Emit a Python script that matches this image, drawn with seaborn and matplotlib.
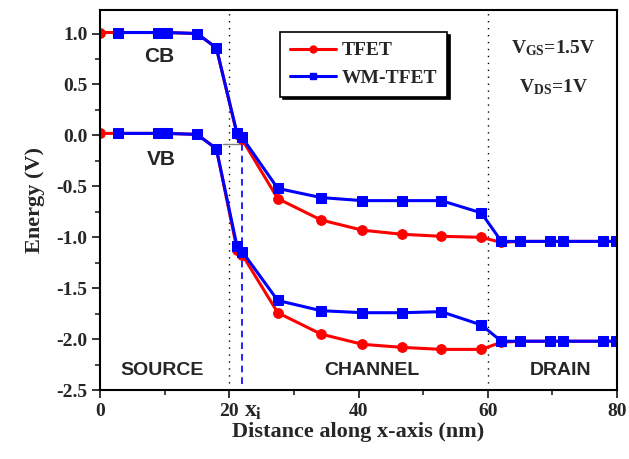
import numpy as np
import pandas as pd
import seaborn as sns
import matplotlib
matplotlib.use('Agg')
import matplotlib.pyplot as plt
from matplotlib.lines import Line2D

#========================= Data ===============================================
x_tfet = [0, 2.8, 9.0, 10.4, 15.0, 18.0, 21.2, 22.0, 27.5, 34.2, 40.6, 46.7,
          52.8, 59.0, 62.1, 65.0, 69.7, 71.7, 77.9, 79.8]
cb_tfet = [1.01, 1.01, 1.01, 1.01, 1.00, 0.86, 0.01, -0.04, -0.62, -0.83, -0.93,
           -0.97, -0.99, -1.00, -1.05, -1.04, -1.04, -1.04, -1.04, -1.04]
vb_tfet = [0.02, 0.02, 0.02, 0.02, 0.01, -0.13, -1.12, -1.17, -1.74, -1.95, -2.05,
           -2.08, -2.10, -2.10, -2.03, -2.02, -2.02, -2.02, -2.02, -2.02]

x_wm = [2.8, 9.0, 10.4, 15.0, 18.0, 21.2, 22.0, 27.5, 34.2, 40.6, 46.7,
        52.8, 59.0, 62.1, 65.0, 69.7, 71.7, 77.9, 79.8]
cb_wm = [1.01, 1.01, 1.01, 1.00, 0.86, 0.02, -0.02, -0.52, -0.61, -0.64, -0.64,
         -0.64, -0.76, -1.04, -1.04, -1.04, -1.04, -1.04, -1.04]
vb_wm = [0.02, 0.02, 0.02, 0.01, -0.13, -1.09, -1.14, -1.62, -1.72, -1.74, -1.74,
         -1.73, -1.86, -2.02, -2.02, -2.02, -2.02, -2.02, -2.02]

region_labels = ['SOURCE', 'CHANNEL', 'DRAIN']
region_x = [9.6, 42.0, 71.3]

#========================= Plot ===============================================
sns.set_style('ticks')
plt.rcParams['font.family'] = ['Liberation Serif', 'DejaVu Serif']
plt.rcParams['font.weight'] = 'bold'
plt.rcParams['mathtext.fontset'] = 'custom'
plt.rcParams['mathtext.rm'] = 'Liberation Serif:bold'
plt.rcParams['mathtext.it'] = 'Liberation Serif:bold'
plt.rcParams['mathtext.bf'] = 'Liberation Serif:bold'

fig = plt.figure(figsize=(6.29, 4.59), dpi=100)
ax = fig.add_axes([0.159, 0.150, 0.822, 0.828])

red = '#ff0000'
blue = '#0000ff'
for xs, ys in [(x_tfet, cb_tfet), (x_tfet, vb_tfet)]:
    sns.lineplot(x=xs, y=ys, ax=ax, color=red, marker='o', markersize=7,
                 markeredgecolor=red, linewidth=2.2, sort=False, estimator=None)
for xs, ys in [(x_wm, cb_wm), (x_wm, vb_wm)]:
    sns.lineplot(x=xs, y=ys, ax=ax, color=blue, marker='s', markersize=6.5,
                 markeredgecolor=blue, linewidth=2.2, sort=False, estimator=None)

# region boundaries
ax.axvline(20, color='black', linestyle=(0, (1, 4)), linewidth=1.0, zorder=1)
ax.axvline(60, color='black', linestyle=(0, (1, 4)), linewidth=1.0, zorder=1)
ax.plot([19.0, 22.0], [-0.08, -0.08], color='grey', linewidth=1.0, zorder=1)
ax.plot([22.0, 22.0], [-0.08, -2.5], color=blue, linestyle=(0, (4, 3)),
        linewidth=1.2, zorder=1)

ax.set_xlim(0, 80)
ax.set_ylim(-2.5, 1.23)
ax.set_xticks([0, 20, 40, 60, 80])
ax.set_xticks([10, 30, 50, 70], minor=True)
ax.set_yticks(np.arange(-2.5, 1.01, 0.5))
ax.set_yticks(np.arange(-2.25, 1.1, 0.5), minor=True)
ax.set_yticklabels(['%.1f' % v for v in np.arange(-2.5, 1.01, 0.5)])
ax.tick_params(which='major', direction='out', length=6, width=1.3,
               labelsize=14, pad=3)
ax.tick_params(which='minor', direction='out', length=3.5, width=1.2)
for s in ax.spines.values():
    s.set_linewidth(1.5)
    s.set_color('black')
    s.set_visible(True)

ax.set_xlabel('Distance along x-axis (nm)', fontsize=16, fontweight='bold', labelpad=2)
ax.set_ylabel('Energy (V)', fontsize=16, fontweight='bold', labelpad=8)

ax.text(22.3, -0.055, r'$x_i$', transform=ax.get_xaxis_transform(),
        fontsize=17, ha='left', va='center')

# band / region labels
ax.text(9.1, 0.77, 'CB', fontsize=15, fontweight='bold', family='Liberation Sans',
        ha='center', va='center')
ax.text(9.5, -0.24, 'VB', fontsize=15, fontweight='bold', family='Liberation Sans',
        ha='center', va='center')
for lab, xl in zip(region_labels, region_x):
    ax.text(xl, -2.31, lab, fontsize=14, fontweight='bold', family='Liberation Sans',
            ha='center', va='center')

ax.text(70.1, 0.86, r'V$_{GS}$=1.5V', fontsize=14, ha='center', va='center')
ax.text(70.1, 0.47, r'V$_{DS}$=1V', fontsize=14, ha='center', va='center')

handles = [Line2D([], [], color=red, marker='o', markersize=5, linewidth=2.2),
           Line2D([], [], color=blue, marker='s', markersize=5, linewidth=2.2)]
leg = ax.legend(handles, ['TFET', 'WM-TFET'], loc='upper left',
                bbox_to_anchor=(0.348, 0.942), borderaxespad=0, fancybox=False,
                frameon=True, edgecolor='black', framealpha=1,
                shadow={'color': 'black', 'alpha': 1},
                prop={'family': 'Liberation Serif', 'weight': 'bold', 'size': 14},
                handlelength=2.4, handletextpad=0.3, labelspacing=0.5,
                borderpad=0.5)
leg.get_frame().set_linewidth(1.2)

plt.savefig('out.png', dpi=100)
